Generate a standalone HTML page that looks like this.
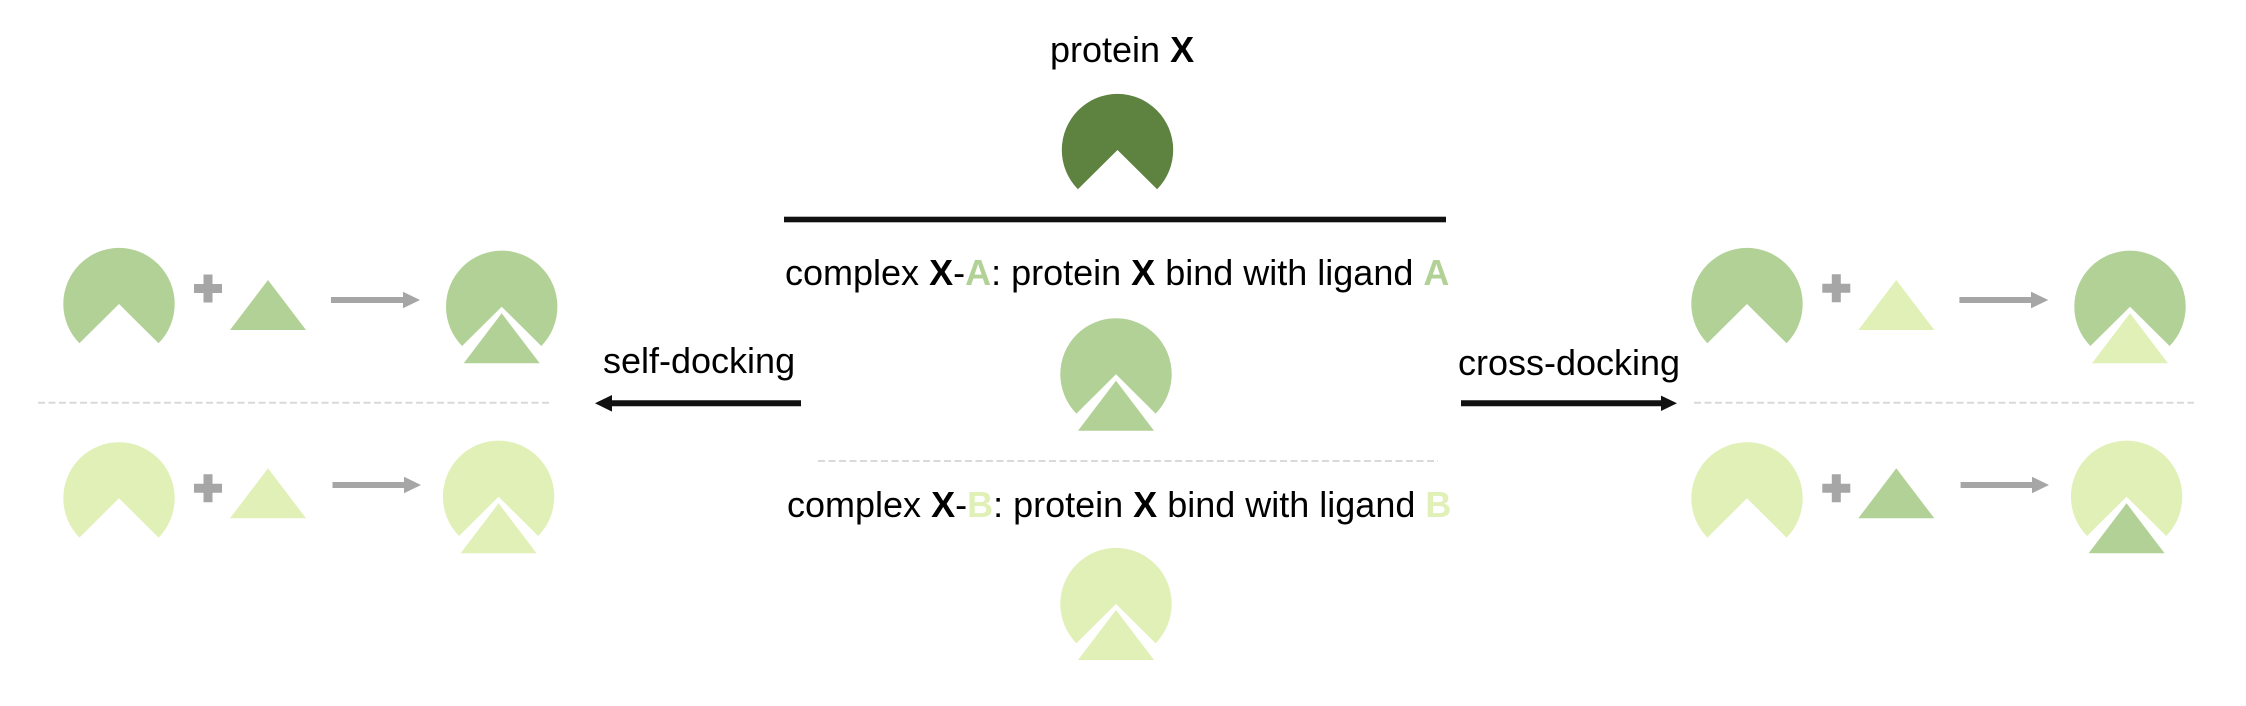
<!DOCTYPE html>
<html><head><meta charset="utf-8"><style>
html,body{margin:0;padding:0;background:#fff;}
svg{display:block;}
text{font-family:"Liberation Sans",Arial,sans-serif;font-size:36px;fill:#000;}
</style></head><body>
<svg width="2246" height="706" viewBox="0 0 2246 706" xmlns="http://www.w3.org/2000/svg">
<defs>
<path id="pac" d="M -39.6 39.3 A 55.7 56 0 1 1 39.6 39.3 L 0 0 Z"/>
<path id="tri" d="M 0 0 L 38 50 L -38 50 Z"/>
<path id="gplus" d="M -4.5 -14 H 4.5 V -4.5 H 14 V 4.5 H 4.5 V 14 H -4.5 V 4.5 H -14 V -4.5 H -4.5 Z"/>
</defs>

<!-- center -->
<text x="1050" y="62">protein <tspan font-weight="bold">X</tspan></text>
<use href="#pac" x="1117.5" y="150" fill="#5e823f"/>
<rect x="784" y="216.7" width="662" height="5.6" fill="#111"/>
<text x="785" y="285">complex <tspan font-weight="bold">X</tspan>-<tspan font-weight="bold" fill="#b2d197">A</tspan>: protein <tspan font-weight="bold">X</tspan> bind with ligand <tspan font-weight="bold" fill="#b2d197">A</tspan></text>
<use href="#pac" x="1116" y="374.3" fill="#b2d197"/>
<use href="#tri" x="1116" y="380.7" fill="#b2d197"/>
<line x1="818" y1="461" x2="1438" y2="461" stroke="#d9d9d9" stroke-width="2" stroke-dasharray="7 3.5"/>
<text x="787" y="517">complex <tspan font-weight="bold">X</tspan>-<tspan font-weight="bold" fill="#e0f0b7">B</tspan>: protein <tspan font-weight="bold">X</tspan> bind with ligand <tspan font-weight="bold" fill="#e0f0b7">B</tspan></text>
<use href="#pac" x="1116" y="604" fill="#e0f0b7"/>
<use href="#tri" x="1116" y="610" fill="#e0f0b7"/>

<!-- self-docking -->
<text x="603" y="373">self-docking</text>
<line x1="610" y1="403.3" x2="801" y2="403.3" stroke="#111" stroke-width="6"/>
<polygon points="595,403.3 612,395 612,411.6" fill="#111"/>
<!-- cross-docking -->
<text x="1458" y="375">cross-docking</text>
<line x1="1461" y1="403.3" x2="1664" y2="403.3" stroke="#111" stroke-width="6"/>
<polygon points="1677,403.3 1661,395.6 1661,411" fill="#111"/>

<!-- left panel -->
<use href="#pac" x="119" y="304" fill="#b2d197"/>
<use href="#gplus" x="208" y="288.5" fill="#a6a6a6"/>
<use href="#tri" x="268" y="280" fill="#b2d197"/>
<line x1="331" y1="300" x2="405" y2="300" stroke="#a6a6a6" stroke-width="6"/>
<polygon points="420,300 403,291.7 403,308.3" fill="#a6a6a6"/>
<use href="#pac" x="501.7" y="306.7" fill="#b2d197"/>
<use href="#tri" x="501.7" y="313.3" fill="#b2d197"/>
<line x1="38" y1="402.7" x2="552" y2="402.7" stroke="#d9d9d9" stroke-width="2" stroke-dasharray="7 3.5"/>
<use href="#pac" x="119" y="498.3" fill="#e0f0b7"/>
<use href="#gplus" x="208" y="488.3" fill="#a6a6a6"/>
<use href="#tri" x="268" y="468.3" fill="#e0f0b7"/>
<line x1="332.5" y1="485" x2="406" y2="485" stroke="#a6a6a6" stroke-width="6"/>
<polygon points="421,485 404,476.7 404,493.3" fill="#a6a6a6"/>
<use href="#pac" x="498.6" y="496.7" fill="#e0f0b7"/>
<use href="#tri" x="498.6" y="503.3" fill="#e0f0b7"/>

<!-- right panel -->
<use href="#pac" x="1747" y="304" fill="#b2d197"/>
<use href="#gplus" x="1836.3" y="288.3" fill="#a6a6a6"/>
<use href="#tri" x="1896.3" y="280" fill="#e0f0b7"/>
<line x1="1959.4" y1="300" x2="2033" y2="300" stroke="#a6a6a6" stroke-width="6"/>
<polygon points="2048.2,300 2031,291.7 2031,308.3" fill="#a6a6a6"/>
<use href="#pac" x="2130" y="306.7" fill="#b2d197"/>
<use href="#tri" x="2130" y="313.3" fill="#e0f0b7"/>
<line x1="1694" y1="402.7" x2="2194" y2="402.7" stroke="#d9d9d9" stroke-width="2" stroke-dasharray="7 3.5"/>
<use href="#pac" x="1747" y="498.3" fill="#e0f0b7"/>
<use href="#gplus" x="1836.3" y="488.3" fill="#a6a6a6"/>
<use href="#tri" x="1896.3" y="468.3" fill="#b2d197"/>
<line x1="1960.6" y1="485" x2="2034" y2="485" stroke="#a6a6a6" stroke-width="6"/>
<polygon points="2049,485 2032,476.7 2032,493.3" fill="#a6a6a6"/>
<use href="#pac" x="2126.6" y="496.7" fill="#e0f0b7"/>
<use href="#tri" x="2126.6" y="503.3" fill="#b2d197"/>
</svg>
</body></html>
